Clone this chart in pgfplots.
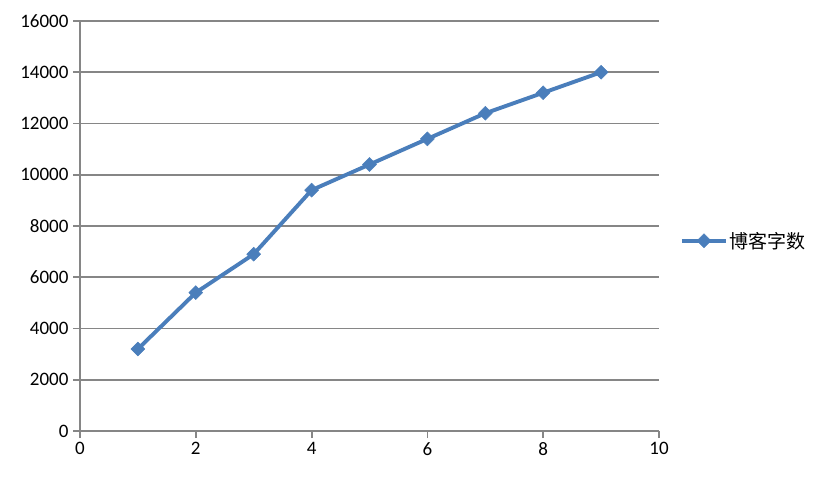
\documentclass[border=0pt]{standalone}
\usepackage{fontspec}
\setmainfont{Carlito}
\newfontfamily\cjk{Noto Sans CJK SC}
\usepackage{pgfplots}
\pgfplotsset{compat=1.18}
\definecolor{lineblue}{HTML}{4A7EBB}
\definecolor{gridgray}{HTML}{868686}
\begin{document}
\begin{tikzpicture}
\path (-80bp,-52bp) rectangle (744bp,431bp);
\begin{axis}[
  at={(0,0)}, anchor=south west,
  scale only axis, width=579bp, height=410bp,
  xmin=0, xmax=10, ymin=0, ymax=16000,
  xtick={0,2,4,6,8,10},
  ytick={0,2000,4000,6000,8000,10000,12000,14000,16000},
  axis x line*=bottom, axis y line*=left,
  axis line style={draw=gridgray, line width=1.8bp, -},
  ymajorgrids, grid style={draw=gridgray, line width=1.8bp},
  tick style={draw=gridgray, line width=1.8bp},
  major tick length=7bp,
  tick align=outside,
  xtick pos=bottom, ytick pos=left,
  scaled y ticks=false,
  /pgf/number format/assume math mode=true,
  yticklabel={\pgfmathprintnumber[fixed,1000 sep={}]{\tick}},
  tick label style={font=\fontsize{19bp}{22bp}\selectfont, text=black},
  xticklabel style={yshift=-1bp},
  yticklabel style={xshift=-1bp},
  legend style={at={(1.036,0.464)}, anchor=west, draw=none, fill=none,
    inner sep=0pt, font=\fontsize{19bp}{22bp}\selectfont\cjk,
    cells={anchor=west}},
  legend image code/.code={\draw[#1, mark repeat=2, mark phase=2] plot coordinates {(0bp,0bp) (22bp,0bp) (44bp,0bp)};},
  clip=false,
]
\addplot[color=lineblue, line width=3.9bp, mark=square*, mark size=4.9bp,
  mark options={fill=lineblue, draw=lineblue, line width=0.5bp, rotate=45}]
  coordinates {(1,3200) (2,5400) (3,6900) (4,9400) (5,10400) (6,11400) (7,12400) (8,13200) (9,14000)};
\addlegendentry{博客字数}
\end{axis}
\end{tikzpicture}
\end{document}
